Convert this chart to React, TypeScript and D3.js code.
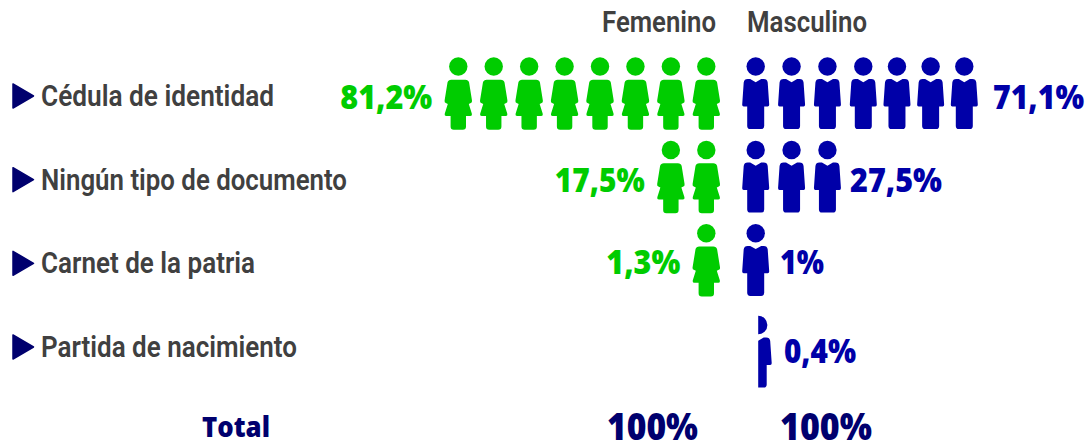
import React from 'react';
import * as d3 from 'd3';

const categories = ['Cédula de identidad', 'Ningún tipo de documento', 'Carnet de la patria', 'Partida de nacimiento'];
const femaleLabels = ['81,2%', '17,5%', '1,3%', ''];
const maleLabels = ['71,1%', '27,5%', '1%', '0,4%'];
// icons drawn per row, 0.5 means half a figure
const femaleIcons = [8, 2, 1, 0];
const maleIcons = [7, 3, 1, 0.5];
const headers = ['Femenino', 'Masculino'];
const totalLabel = 'Total';
const totals = ['100%', '100%'];

const GREEN = '#00cc00';
const BLUE = '#0000a8';
const NAVY = '#00006e';
const GREY = '#404040';
const LABEL_FONT = 'Roboto, sans-serif';
const VALUE_FONT = '"Open Sans", sans-serif';

// rendered widths, the condensed original face is not available
const labelWidths = [233, 306, 214, 256];
const femaleWidths = [92, 90, 74, 0];
const maleWidths = [91, 92, 44, 72];
const maleValueX = [993, 850, 780, 784];
const valueBaselines = [109, 192, 274, 363];

const womanPath = 'M-7 13.3L7 13.3Q10 13.3 10.8 16L13.7 34Q14 36 12.5 36.5L10.5 37.5L13.5 47Q14 49.5 12 49.5L7.7 49.5L7.7 60Q7.7 63.3 4.5 63.3L-4.5 63.3Q-7.7 63.3 -7.7 60L-7.7 49.5L-12 49.5Q-14 49.5 -13.5 47L-10.5 37.5L-12.5 36.5Q-14 36 -13.7 34L-10.8 16Q-10 13.3 -7 13.3Z';
const manPath = 'M0 15.8L-5.5 12.6L-8 12.6Q-11.5 12.6 -12 16L-13.5 38Q-13.6 40 -12 40L-8.5 40L-8.5 59.5Q-8.5 62.6 -5.5 62.6L5.5 62.6Q8.5 62.6 8.5 59.5L8.5 40L12 40Q13.6 40 13.5 38L12 16Q11.5 12.6 8 12.6L5.5 12.6Z';

const iconY = d3.scaleOrdinal<string, number>().domain(categories).range([66.5, 150, 233.3, 325]);
const labelY = d3.scalePoint<string>().domain(categories).range([106, 357]);
const femaleX = d3.scaleLinear().domain([0, 7]).range([706.3, 458.3]);
const maleX = d3.scaleLinear().domain([0, 3, 6]).range([755.7, 863.3, 964.3]);

function Icon({ x, y, path, color, half }: any) {
  return (
    <g transform={`translate(${x},${y})`} clipPath={half ? 'url(#halfClip)' : undefined} fill={color}>
      <circle cx={0} cy={0} r={9.2} />
      <path d={path} />
    </g>
  );
}

export default function App() {
  return (
    <svg width={1088} height={442} style={{ position: 'absolute', left: 0, top: 0, background: '#fff' }}>
      <defs>
        <clipPath id="halfClip"><rect x={0} y={-20} width={30} height={100} /></clipPath>
      </defs>

      <g fontFamily={LABEL_FONT} fontSize={29} fontWeight={600} fill={GREY}>
        <text x={602} y={32} textLength={114} lengthAdjust="spacingAndGlyphs">{headers[0]}</text>
        <text x={747} y={32} textLength={120} lengthAdjust="spacingAndGlyphs">{headers[1]}</text>
      </g>

      {categories.map((c, i) => {
        const y = iconY(c);
        const ly = labelY(c) as number;
        const isHalf = maleIcons[i] < 1;
        const fCount = femaleIcons[i];
        const mCount = Math.ceil(maleIcons[i]);
        const lastF = femaleX(fCount - 1);
        return (
          <g key={c}>
            <path d={d3.line()([[13, ly - 22], [13, ly + 2], [33.5, ly - 10]]) + 'Z'} fill={NAVY} stroke={NAVY} strokeWidth={1.5} strokeLinejoin="round" />
            <text x={41} y={ly} fontFamily={LABEL_FONT} fontSize={29} fontWeight={600} fill={GREY} textLength={labelWidths[i]} lengthAdjust="spacingAndGlyphs">{c}</text>

            {d3.range(fCount).map(k => (
              <Icon key={k} x={femaleX(k)} y={y} path={womanPath} color={GREEN} />
            ))}
            {d3.range(mCount).map(k => (
              <Icon key={k} x={maleX(k) + (isHalf ? 2.5 : 0)} y={y} path={manPath} color={BLUE} half={isHalf} />
            ))}

            {femaleLabels[i] && (
              <text x={lastF - 26 - femaleWidths[i]} y={valueBaselines[i]} fontFamily={VALUE_FONT} fontWeight={800} fontSize={33} fill={GREEN} textLength={femaleWidths[i]} lengthAdjust="spacingAndGlyphs">{femaleLabels[i]}</text>
            )}
            <text x={maleValueX[i]} y={valueBaselines[i]} fontFamily={VALUE_FONT} fontWeight={800} fontSize={33} fill={BLUE} textLength={maleWidths[i]} lengthAdjust="spacingAndGlyphs">{maleLabels[i]}</text>
          </g>
        );
      })}

      <g fontFamily={VALUE_FONT} fontWeight={800} fill={NAVY}>
        <text x={202} y={437} fontSize={28} textLength={68} lengthAdjust="spacingAndGlyphs">{totalLabel}</text>
        <text x={607} y={439.5} fontSize={37} textLength={91} lengthAdjust="spacingAndGlyphs">{totals[0]}</text>
        <text x={780} y={439.5} fontSize={37} textLength={92} lengthAdjust="spacingAndGlyphs">{totals[1]}</text>
      </g>
    </svg>
  );
}
